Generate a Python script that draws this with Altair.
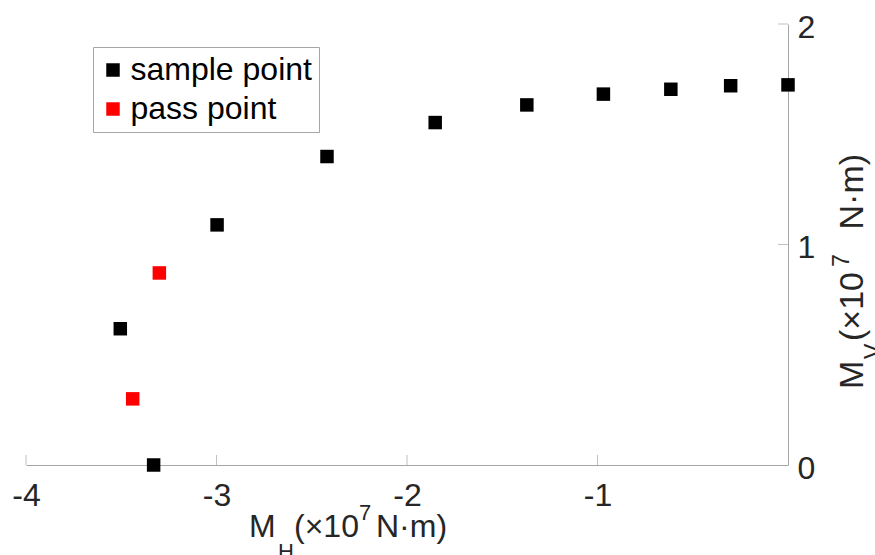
import altair as alt
import pandas as pd

# ---- data ----
sample_x = [-3.33, -3.505, -2.997, -2.420, -1.852, -1.371, -0.969, -0.615, -0.301, 0.0]
sample_y = [0.0, 0.618, 1.089, 1.399, 1.553, 1.633, 1.682, 1.704, 1.720, 1.724]
pass_x = [-3.30, -3.44]
pass_y = [0.871, 0.300]
series_names = ["sample point", "pass point"]
series_colors = ["#000000", "#ff0000"]
x_ticks = [-4, -3, -2, -1]
y_ticks = [0, 1, 2]
x_title_parts = ["M", "H", "(×10", "7", "N·m)"]
y_title_parts = ["M", "V", "(×10", "7", "N·m)"]

FONT = "Liberation Sans"
GRAY = "#a6a6a6"
TXT = "#262626"
W, H = 762, 441

df = pd.DataFrame({
    "MH": sample_x + pass_x,
    "MV": sample_y + pass_y,
    "type": [series_names[0]] * len(sample_x) + [series_names[1]] * len(pass_x),
})

xscale = alt.Scale(domain=[-4, 0], nice=False, zero=False)
yscale = alt.Scale(domain=[0, 2], nice=False, zero=False)

xaxis = alt.Axis(values=x_ticks, ticks=False, tickSize=0, grid=False, title=None,
                 labelExpr="'' + datum.value",
                 labelFontSize=32, labelFont=FONT, labelColor=TXT, labelPadding=15,
                 domainColor=GRAY, domainWidth=1, labelFlush=False)
yaxis = alt.Axis(values=y_ticks, orient="right", ticks=False, tickSize=0, grid=False,
                 title=None, labelExpr="'' + datum.value",
                 labelFontSize=32, labelFont=FONT, labelColor=TXT,
                 labelPadding=9, labelOffset=3, domainColor=GRAY, domainWidth=1,
                 labelFlush=False, labelAlign="left")

points = alt.Chart(df).mark_square(size=182, opacity=1).encode(
    x=alt.X("MH:Q", scale=xscale, axis=xaxis),
    y=alt.Y("MV:Q", scale=yscale, axis=yaxis),
    color=alt.Color("type:N",
                    scale=alt.Scale(domain=series_names, range=series_colors),
                    legend=alt.Legend(title=None, orient="none", legendX=67, legendY=23,
                                      symbolType="square", symbolSize=182, symbolStrokeWidth=0,
                                      symbolOffset=-3, labelFontSize=32, labelFont=FONT,
                                      labelColor="#000000", labelOffset=1.5, padding=7,
                                      rowPadding=7, strokeColor=GRAY, fillColor="#ffffff",
                                      labelLimit=400)),
)

xt_df = pd.DataFrame({"t": x_ticks})
xticks = alt.Chart(xt_df).mark_tick(orient="vertical", size=10, thickness=1, color=GRAY,
                                    yOffset=-5).encode(
    x=alt.X("t:Q", scale=xscale, axis=xaxis), y=alt.Y(datum=0, scale=yscale, axis=yaxis))
yt_df = pd.DataFrame({"t": y_ticks[1:]})
yticks = alt.Chart(yt_df).mark_tick(orient="horizontal", size=10, thickness=1, color=GRAY,
                                    xOffset=-5).encode(
    y=alt.Y("t:Q", scale=yscale, axis=yaxis), x=alt.X(datum=0, scale=xscale, axis=xaxis))

one = pd.DataFrame({"a": [0]})

def txt(s, x, y, size, angle=0):
    return alt.Chart(one).mark_text(text=s, fontSize=size, font=FONT, color=TXT,
                                    align="left", baseline="alphabetic", angle=angle).encode(
        x=alt.value(x), y=alt.value(y))

# x title pieces (layout offsets in pixels)
x0, yb = 223, 513
xoffs = [0, 29, 45, 110, 127]
xdy = [0, 22, 0, -17, 0]
xsz = [32, 22, 32, 22, 32]
xt_layers = [txt(s, x0 + o, yb + d, z) for s, o, d, z in zip(x_title_parts, xoffs, xdy, xsz)]

# y title pieces, rotated (reads bottom to top)
ybx = 837
yanch = [365, 335, 317, 243, 205.5]
ydx = [0, 18, 0, -14, 0]
ysz = [34, 23, 34, 23, 34]
yt_layers = [txt(s, ybx + d, a, z, 270) for s, a, d, z in zip(y_title_parts, yanch, ydx, ysz)]

chart = alt.layer(xticks, yticks, points, *xt_layers, *yt_layers).properties(
    width=W, height=H,
    autosize=alt.AutoSizeParams(type="none"),
    padding={"left": 26, "top": 24, "right": 87, "bottom": 90},
).configure(background="#ffffff", view=alt.ViewConfig(stroke="transparent", strokeWidth=0))

chart.save("out.html", embed_options={"renderer": "svg", "actions": False})
